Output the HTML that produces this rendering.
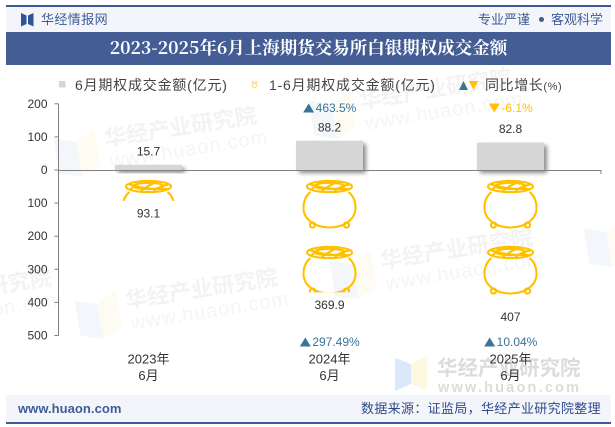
<!DOCTYPE html>
<html lang="zh">
<head>
<meta charset="utf-8">
<title>2023-2025年6月上海期货交易所白银期权成交金额</title>
<style>
html,body{margin:0;padding:0;background:#fff}
#page{position:relative;width:615px;height:427px;overflow:hidden;background:#fff;font-family:"Liberation Sans","Noto Sans CJK SC",sans-serif}
.abs{position:absolute;white-space:nowrap}
svg{position:absolute;left:0;top:0}
svg text{font-family:"Liberation Sans","Noto Sans CJK SC",sans-serif}
</style>
</head>
<body>
<div id="page">
  <div class="abs" style="left:6px;top:6px;width:605px;height:26px;background:#f3f5fa"></div>
  <div class="abs" style="left:6px;top:5px;width:605px;height:1.5px;background:#3c5a96"></div>
  <div class="abs" style="left:6px;top:4.5px;width:8px;height:2.5px;background:#3c5a96"></div>
  <div class="abs" style="left:603px;top:4.5px;width:8px;height:2.5px;background:#3c5a96"></div>
  <svg width="615" height="40" style="pointer-events:none">
    <polygon points="21,13 26.5,15.5 26.5,24 21,26.5" fill="#2f5597"/>
    <polygon points="33.5,13 28,15.5 28,24 33.5,26.5" fill="#2f5597"/>
  </svg>
  <div class="abs" style="left:41px;top:11px;font-size:13px;letter-spacing:.4px;line-height:17px;color:#3f5c96">华经情报网</div>
  <div class="abs" style="left:478px;top:11px;font-size:13px;line-height:17px;color:#3f5c96">专业严谨</div>
  <div class="abs" style="left:538.5px;top:17px;width:5px;height:5px;border-radius:50%;background:#3f5c96"></div>
  <div class="abs" style="left:551px;top:11px;font-size:13px;line-height:17px;color:#3f5c96">客观科学</div>
  <div class="abs" style="left:6px;top:32px;width:605px;height:33px;background:#445e95"></div>
  <div class="abs" style="left:6px;top:32px;width:605px;height:33px;line-height:32px;text-align:center;color:#fff;font-size:17.5px;font-weight:bold;font-family:'Noto Serif CJK SC','Liberation Serif',serif">2023-2025年6月上海期货交易所白银期权成交金额</div>

  <svg width="615" height="427">
    <g transform="translate(60,178) rotate(-9)">
      <polygon points="0,-40 22,-33 22,2 0,-4" fill="#f3f7fc"/>
      <polygon points="22,-33 42,-44 42,-6 22,2" fill="#fdfbf2"/>
      <text x="50" y="-24" font-size="22" font-weight="bold" fill="#f3f3f3">华经产业研究院</text>
      <text x="52" y="-2" font-size="20" fill="#f5f5f5" letter-spacing="1">www.huaon.com</text>
    </g>
    <g transform="translate(81,340) rotate(-9)">
      <polygon points="0,-40 22,-33 22,2 0,-4" fill="#f3f7fc"/>
      <polygon points="22,-33 42,-44 42,-6 22,2" fill="#fdfbf2"/>
      <text x="50" y="-24" font-size="22" font-weight="bold" fill="#f3f3f3">华经产业研究院</text>
      <text x="52" y="-2" font-size="20" fill="#f5f5f5" letter-spacing="1">www.huaon.com</text>
    </g>
    <g transform="translate(336,300) rotate(-9)">
      <polygon points="0,-40 22,-33 22,2 0,-4" fill="#f3f7fc"/>
      <polygon points="22,-33 42,-44 42,-6 22,2" fill="#fdfbf2"/>
      <text x="50" y="-24" font-size="22" font-weight="bold" fill="#f3f3f3">华经产业研究院</text>
      <text x="52" y="-2" font-size="20" fill="#f5f5f5" letter-spacing="1">www.huaon.com</text>
    </g>
    <g transform="translate(315,140) rotate(-9)">
      <polygon points="0,-40 22,-33 22,2 0,-4" fill="#f3f7fc"/>
      <polygon points="22,-33 42,-44 42,-6 22,2" fill="#fdfbf2"/>
      <text x="50" y="-24" font-size="22" font-weight="bold" fill="#f3f3f3">华经产业研究院</text>
      <text x="52" y="-2" font-size="20" fill="#f5f5f5" letter-spacing="1">www.huaon.com</text>
    </g>
    <g transform="translate(-145,340) rotate(-9)">
      <text x="50" y="-24" font-size="22" font-weight="bold" fill="#f3f3f3">华经产业研究院</text>
      <text x="52" y="-2" font-size="20" fill="#f5f5f5" letter-spacing="1">www.huaon.com</text>
    </g>
    <g transform="translate(590,268) rotate(-9)">
      <polygon points="0,-40 22,-33 22,2 0,-4" fill="#f3f7fc"/>
      <polygon points="22,-33 42,-44 42,-6 22,2" fill="#fdfbf2"/>
    </g>
    <g>
      <polygon points="395,358 411,364 411,384 395,391" fill="#dbe8fb"/>
      <polygon points="411,364 427,356 427,390 411,384" fill="#fdf8e0"/>
      <text x="437" y="375" font-size="20.5" font-weight="bold" fill="#dcdcdc">华经产业研究院</text>
      <text x="438" y="392" font-size="14.5" font-weight="bold" fill="#dcdcdc" letter-spacing="2.2">www.huaon.com</text>
    </g>
  </svg>

  <div class="abs" style="left:6px;top:395px;width:605px;height:27px;background:#f3f5fa"></div>
  <div class="abs" style="left:6px;top:422px;width:605px;height:1.5px;background:#3c5a96"></div>
  <div class="abs" style="left:6px;top:421.5px;width:8px;height:2.5px;background:#3c5a96"></div>
  <div class="abs" style="left:603px;top:421.5px;width:8px;height:2.5px;background:#3c5a96"></div>
  <div class="abs" style="left:18px;top:400px;line-height:17px;font-size:13px;font-weight:bold;color:#3f5c96;letter-spacing:.05px">www.huaon.com</div>
  <div class="abs" style="left:361px;top:400px;line-height:17px;font-size:13px;letter-spacing:.33px;color:#2f4a8c">数据来源：证监局，华经产业研究院整理</div>

  <svg id="chart" width="615" height="427">
    <g>
      <rect x="59" y="81" width="6.5" height="6.5" fill="#d6d6d6"/>
      <text x="75" y="90" font-size="14" letter-spacing=".8" fill="#444">6月期权成交金额(亿元)</text>
      <g fill="none" stroke="#ffd966" stroke-width="1">
        <ellipse cx="254.5" cy="82.5" rx="2.5" ry="1"/>
        <ellipse cx="254.5" cy="85.5" rx="2.2" ry="2.2"/>
      </g>
      <text x="269" y="90" font-size="14" letter-spacing=".8" fill="#444">1-6月期权成交金额(亿元)</text>
      <polygon points="459,90 468,90 463.5,81" fill="#3a7396"/>
      <polygon points="469,81 478,81 473.5,90" fill="#ffc000"/>
      <text x="485" y="90" font-size="14" letter-spacing=".6" fill="#444">同比增长<tspan font-size="11">(%)</tspan></text>
    </g>
    <g id="plot"></g>
  </svg>
</div>

<script>
const categoryYears = ['2023年', '2024年', '2025年'];
const categoryMonths = ['6月', '6月', '6月'];
const monthValues = [15.7, 88.2, 82.8];
const ytdValues = [93.1, 369.9, 407];
const monthGrowth = [null, 463.5, -6.1];
const ytdGrowth = [null, 297.49, 10.04];
const yTicks = [200, 100, 0, -100, -200, -300, -400, -500];

const NS = 'http://www.w3.org/2000/svg';
const plot = document.getElementById('plot');
const plotLeft = 58.5, plotRight = 601, zeroY = 170;
const defs = document.createElementNS(NS, 'defs');
defs.innerHTML = '<filter id="barShadow" x="-20%" y="-40%" width="150%" height="200%"><feDropShadow dx="3" dy="3" stdDeviation="2" flood-color="#000" flood-opacity="0.45"/></filter>';
plot.appendChild(defs);

function yScale(v) { return zeroY - v * 0.331; }
function xScale(i) { return 148.5 + i * 181; }
function add(tag, parent) {
  const el = document.createElementNS(NS, tag);
  (parent || plot).appendChild(el);
  return el;
}
function set(el, props) {
  Object.keys(props).forEach(function (k) { el.setAttribute(k, props[k]); });
  return el;
}
function label(txt, x, y, size, color, anchor) {
  const t = add('text');
  set(t, { x: x, y: y, 'font-size': size, fill: color, 'text-anchor': anchor || 'middle', 'dominant-baseline': 'central' });
  t.textContent = txt;
  return t;
}

/* axes */
const yAxis = add('line');


set(yAxis, { x1: plotLeft, x2: plotLeft, y1: yScale(200), y2: yScale(-500), stroke: '#7f7f7f', 'stroke-width': 1 });

yTicks.forEach(function (v) {
  const tick = add('line');
  
  
  set(tick, { x1: plotLeft - 4, x2: plotLeft, y1: yScale(v), y2: yScale(v), stroke: '#7f7f7f', 'stroke-width': 1 });
  const t = label(String(Math.abs(v)), 47.5, yScale(v), 12, '#333', 'end');
  
  
});

/* month bars */
monthValues.forEach(function (v, i) {
  const bar = add('rect');
  
  
  set(bar, { x: xScale(i) - 33.5, y: yScale(v), width: 67, height: zeroY - yScale(v), fill: '#d6d6d6', filter: 'url(#barShadow)' });
  const t = label(String(v), xScale(i), yScale(v) - 13.5, 12, '#333');
  
  
});

/* x axis (drawn over bars) */
const xAxis = add('line');


set(xAxis, { x1: plotLeft, x2: plotRight, y1: zeroY + 0.5, y2: zeroY + 0.5, stroke: '#7f7f7f', 'stroke-width': 1 });
const xEnd = add('line');


set(xEnd, { x1: plotRight, x2: plotRight, y1: zeroY, y2: zeroY + 4, stroke: '#7f7f7f', 'stroke-width': 1 });

/* pictorial pots */
const potPeriod = 66, potOffset = 10;
const potShape =
  '<path d="M-19 12 C-24 16 -26 22 -26 28 C-26 39 -15 47.5 0 47.5 C15 47.5 26 39 26 28 C26 22 24 16 19 12"/>' +
  '<circle cx="-17" cy="45" r="2.6"/><circle cx="17" cy="45" r="2.6"/>' +
  '<ellipse cx="0" cy="6.5" rx="22.5" ry="5.6"/>' +
  '<ellipse cx="0" cy="6" rx="15" ry="3.2"/>' +
  '<path d="M-19 10 C-11 3 -5 1 -2 0.5 M-8 11.5 C-2 6 7 2 11 1.5 M5 11.5 C8 8 15 5 20 4.5 M-20 4 C-10 8 2 9.5 19 9"/>';

ytdValues.forEach(function (v, i) {
  const bottom = yScale(-v);
  const clip = add('clipPath', defs);
  clip.setAttribute('id', 'ytdClip' + i);
  const r = add('rect', clip);
  set(r, { x: xScale(i) - 40, y: zeroY, width: 80, height: bottom - zeroY });
  const bar = add('g');
  
  
  set(bar, { 'clip-path': 'url(#ytdClip' + i + ')' });
  for (let top = zeroY + potOffset; top < bottom; top += potPeriod) {
    const pot = add('g', bar);
    
    
    set(pot, { transform: 'translate(' + xScale(i) + ',' + top + ')', fill: 'none', stroke: '#ffc000', 'stroke-width': 2.1 });
    pot.innerHTML = potShape;
  }
  const t = label(String(v), xScale(i), bottom + 12.5, 12, '#333');
  
  
});

/* growth labels */
function growthLabel(value, i, y) {
  if (value === null) return;
  const up = value >= 0;
  const color = up ? '#3a7396' : '#ffc000';
  const txt = value + '%';
  const g = add('g');
  
  
  const t = add('text', g);
  set(t, { y: y, 'font-size': 12, fill: color, 'dominant-baseline': 'central' });
  t.textContent = txt;
  const w = t.getComputedTextLength();
  const left = xScale(i) + 0.5 - (w + 12) / 2;
  t.setAttribute('x', left + 12);
  const tri = add('polygon', g);
  const a = left - 0.5, b = left + 10.5, c = left + 5;
  const pts = up
    ? [a, y + 4.5, b, y + 4.5, c, y - 4.5]
    : [a, y - 4.5, b, y - 4.5, c, y + 4.5];
  set(tri, { points: pts.join(' '), fill: color });
}
monthGrowth.forEach(function (v, i) { growthLabel(v, i, 108); });
ytdGrowth.forEach(function (v, i) { growthLabel(v, i, 342); });

/* category labels */
categoryYears.forEach(function (c, i) {
  const a = label(c, xScale(i), 359, 13, '#333');
  
  
  const b = label(categoryMonths[i], xScale(i), 375.5, 13, '#333');
  
  
});
</script>
</body>
</html>
